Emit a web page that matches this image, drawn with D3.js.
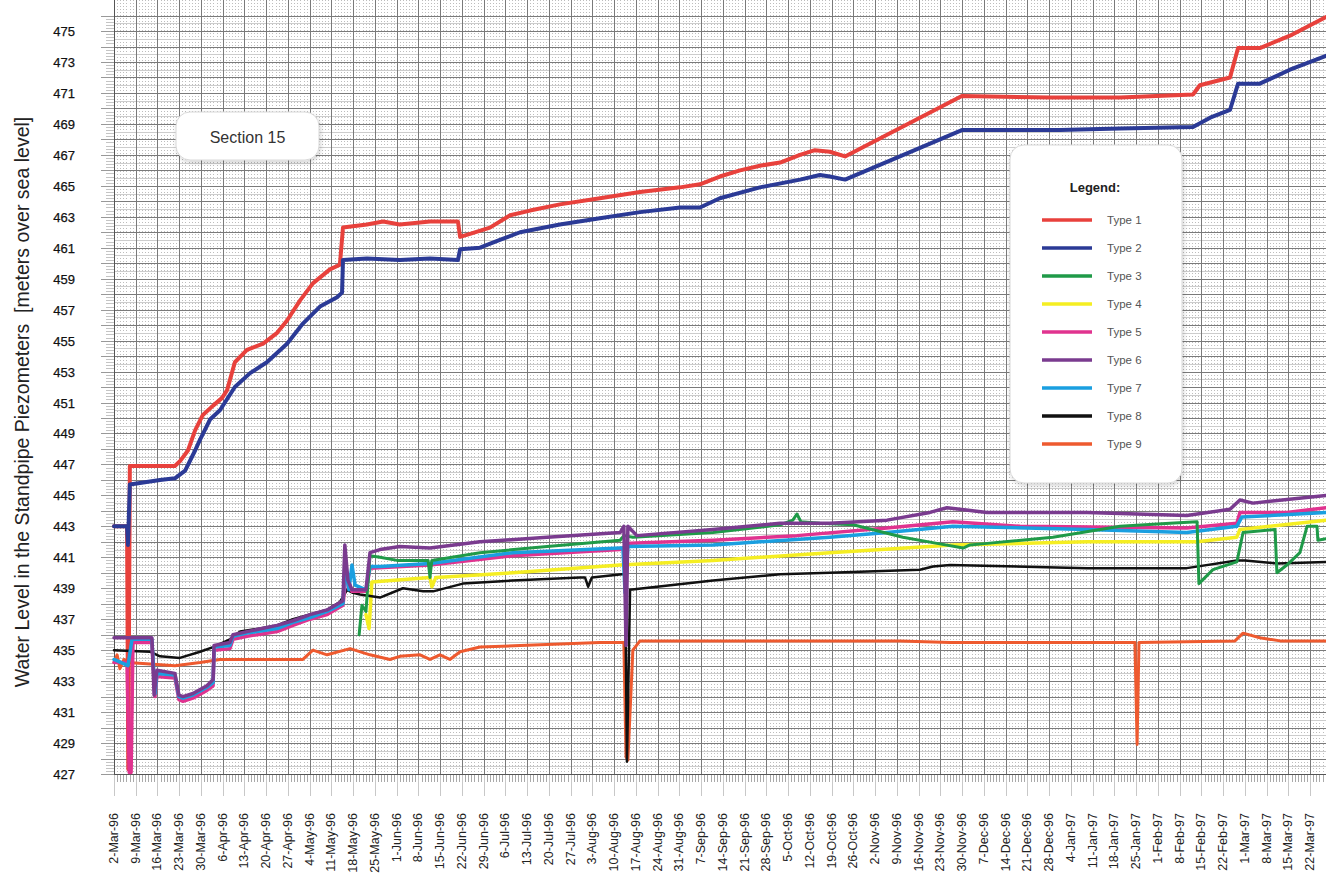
<!DOCTYPE html>
<html>
<head>
<meta charset="utf-8">
<script src="https://cdn.jsdelivr.net/npm/d3@7"></script>
<style>
	body { margin: 0; background: #fff; }
	svg { display: block; font-family: "Liberation Sans", Arial, sans-serif; }
</style>
</head>
<body>
<svg id="chart" width="1326" height="877"></svg>
<script>
var START = "1996-03-02";

var dateLabels = ["2-Mar-96", "9-Mar-96", "16-Mar-96", "23-Mar-96", "30-Mar-96", "6-Apr-96", "13-Apr-96",
	"20-Apr-96", "27-Apr-96", "4-May-96", "11-May-96", "18-May-96", "25-May-96", "1-Jun-96", "8-Jun-96",
	"15-Jun-96", "22-Jun-96", "29-Jun-96", "6-Jul-96", "13-Jul-96", "20-Jul-96", "27-Jul-96", "3-Aug-96",
	"10-Aug-96", "17-Aug-96", "24-Aug-96", "31-Aug-96", "7-Sep-96", "14-Sep-96", "21-Sep-96", "28-Sep-96",
	"5-Oct-96", "12-Oct-96", "19-Oct-96", "26-Oct-96", "2-Nov-96", "9-Nov-96", "16-Nov-96", "23-Nov-96",
	"30-Nov-96", "7-Dec-96", "14-Dec-96", "21-Dec-96", "28-Dec-96", "4-Jan-97", "11-Jan-97", "18-Jan-97",
	"25-Jan-97", "1-Feb-97", "8-Feb-97", "15-Feb-97", "22-Feb-97", "1-Mar-97", "8-Mar-97", "15-Mar-97", "22-Mar-97"];

var levelLabels = [427, 429, 431, 433, 435, 437, 439, 441, 443, 445, 447, 449, 451, 453, 455, 457, 459, 461,
	463, 465, 467, 469, 471, 473, 475];

var seriesNames = ["Type 1", "Type 2", "Type 3", "Type 4", "Type 5", "Type 6", "Type 7", "Type 8", "Type 9"];
var seriesColors = ["#e8413c", "#2b3a96", "#1f9a48", "#f5ee22", "#e0338f", "#7a3b8f", "#1a9fe0", "#111111", "#ee5a2f"];

// [days after 2-Mar-96, level in m]
var type1 = [[0,443.0],[4.2,443.0],[4.6,427.3],[5.1,446.9],[19.6,446.9],[21.2,447.2],[23.8,447.9],[26.1,449.2],
	[28.6,450.2],[31.9,450.8],[34.8,451.3],[36.4,451.8],[38.9,453.6],[42.8,454.4],[48.0,454.8],[52.5,455.5],
	[55.7,456.3],[59.9,457.6],[64.0,458.7],[69.5,459.6],[72.7,459.9],[73.7,462.3],[81.4,462.5],[86.6,462.7],
	[92.0,462.5],[101.7,462.7],[110.7,462.7],[111.4,461.7],[114.6,461.9],[121.0,462.3],[127.5,463.1],
	[133.9,463.4],[143.5,463.8],[156.4,464.2],[169.3,464.6],[182.2,464.9],[188.6,465.1],[195.0,465.6],
	[201.5,466.0],[207.9,466.3],[214.4,466.5],[220.8,467.0],[225.6,467.3],[230.4,467.2],[235.3,466.9],
	[272.9,470.8],[301.3,470.7],[323.8,470.7],[347.3,470.9],[349.5,471.5],[359.2,472.0],[361.8,473.9],
	[368.8,473.9],[378.5,474.7],[390.1,475.9]];

var type2 = [[0,443.0],[4.2,443.0],[4.5,441.8],[5.1,445.7],[14.8,446.0],[19.6,446.1],[22.9,446.6],[26.1,447.9],
	[27.7,448.6],[30.9,449.9],[34.1,450.5],[38.9,452.0],[43.8,452.9],[49.2,453.6],[55.7,454.8],[60.8,456.1],
	[66.3,457.2],[71.8,457.8],[73.4,458.1],[73.7,460.2],[81.4,460.3],[92.0,460.2],[101.7,460.3],[110.7,460.2],
	[111.4,460.9],[117.8,461.0],[124.2,461.5],[130.7,462.0],[143.5,462.5],[156.4,462.9],[169.3,463.3],
	[182.2,463.6],[188.6,463.6],[195.0,464.2],[207.9,464.9],[220.8,465.4],[227.2,465.7],[230.4,465.6],
	[235.3,465.4],[272.9,468.6],[304.5,468.6],[323.8,468.7],[347.3,468.8],[352.8,469.4],[359.2,469.9],
	[361.8,471.6],[368.8,471.6],[378.5,472.5],[390.1,473.4]];

var type3 = [[78.9,436.0],[79.8,437.9],[81.1,437.5],[82.4,441.1],[85.6,441.0],[91.1,440.8],[101.1,440.8],
	[101.7,439.7],[102.3,440.8],[117.8,441.3],[139.4,441.7],[162.9,442.1],[164.1,442.4],[167.0,442.3],
	[192.8,442.6],[214.4,443.1],[218.5,443.4],[219.8,443.8],[221.1,443.3],[227.2,443.2],[237.9,443.1],
	[253.9,442.3],[264.9,441.9],[273.3,441.6],[275.5,441.8],[281.0,441.9],[302.2,442.3],[323.8,443.0],
	[339.9,443.2],[348.6,443.3],[349.2,439.3],[353.7,440.2],[361.4,440.7],[363.4,442.6],[373.7,442.8],
	[374.3,440.0],[377.5,440.5],[381.7,441.3],[384.0,443.0],[387.2,443.0],[387.5,442.1],[390.1,442.2]];

var type4 = [[81.1,437.3],[82.1,436.4],[83.0,439.4],[101.7,439.7],[102.3,439.1],[103.6,439.7],[128.4,440.0],
	[162.9,440.5],[192.8,440.8],[230.4,441.3],[270.0,441.8],[313.2,442.0],[348.6,442.0],[361.4,442.3],
	[362.4,442.8],[390.1,443.4]];

var type5 = [[0,434.2],[4.2,434.2],[4.9,427.1],[5.5,427.1],[6.1,435.5],[12.2,435.5],[13.2,432.0],[13.8,433.3],
	[19.6,433.2],[20.9,431.8],[22.2,431.7],[25.4,431.9],[29.9,432.4],[31.9,432.7],[32.2,435.0],[37.3,435.1],
	[38.3,435.7],[42.8,435.9],[52.5,436.2],[57.6,436.6],[63.1,437.0],[68.6,437.3],[73.7,437.9],[74.7,439.9],
	[76.6,438.8],[81.1,438.8],[82.4,440.3],[101.7,440.5],[128.4,441.1],[162.9,441.5],[166.1,441.9],
	[192.8,442.1],[219.8,442.4],[248.8,442.9],[270.0,443.3],[291.6,443.0],[345.3,442.9],[361.4,443.2],
	[362.4,443.9],[377.5,443.9],[390.1,444.2]];

var type6 = [[0,435.8],[12.2,435.8],[12.9,432.1],[13.8,433.7],[19.6,433.5],[20.9,432.1],[22.2,432.0],
	[25.4,432.2],[29.9,432.7],[31.9,433.1],[32.2,435.3],[37.3,435.5],[38.3,436.0],[42.8,436.2],[52.5,436.6],
	[57.6,436.9],[63.1,437.3],[68.6,437.6],[73.7,438.2],[74.3,441.8],[75.3,439.5],[76.6,438.9],[81.1,438.9],
	[82.4,441.3],[85.6,441.5],[92.0,441.7],[101.7,441.6],[117.8,442.0],[139.4,442.3],[162.9,442.6],
	[164.1,443.0],[164.8,435.3],[165.4,443.0],[168.3,442.4],[192.8,442.8],[214.4,443.2],[230.4,443.2],
	[248.8,443.4],[262.6,443.9],[268.1,444.2],[281.0,443.9],[313.2,443.9],[345.3,443.7],[359.2,444.1],
	[362.4,444.7],[366.6,444.5],[390.1,445.0]];

var type7 = [[0,434.4],[4.5,434.0],[5.8,435.7],[12.2,435.7],[13.2,432.2],[13.8,433.5],[19.6,433.4],[20.9,432.0],
	[22.2,431.9],[25.4,432.1],[29.9,432.6],[31.9,432.9],[32.2,435.2],[37.3,435.3],[38.3,435.9],[42.8,436.1],
	[52.5,436.4],[57.6,436.8],[63.1,437.1],[68.6,437.5],[73.7,438.0],[74.3,440.5],[75.6,438.9],[76.6,440.5],
	[77.6,439.2],[81.1,438.9],[82.4,440.4],[85.6,440.4],[101.7,440.6],[128.4,441.3],[162.9,441.6],
	[163.8,441.6],[164.5,438.7],[165.4,441.7],[192.8,441.8],[230.4,442.3],[248.8,442.6],[270.0,443.0],
	[313.2,442.8],[345.3,442.6],[361.4,443.0],[363.0,443.6],[390.1,443.9]];

var type8 = [[0,435.0],[11.6,434.9],[14.8,434.6],[21.2,434.5],[27.7,434.9],[31.9,435.2],[37.3,435.7],
	[40.6,436.2],[47.0,436.4],[52.5,436.6],[57.6,437.0],[63.1,437.3],[68.6,437.6],[72.7,438.1],[75.0,438.9],
	[76.9,438.7],[79.2,438.6],[85.6,438.4],[93.0,439.0],[99.5,438.8],[102.7,438.8],[112.3,439.3],
	[128.4,439.5],[150.0,439.7],[151.6,439.7],[152.6,439.1],[153.8,439.7],[163.5,439.9],[164.5,439.9],
	[165.1,427.8],[166.1,438.9],[192.8,439.5],[214.4,439.9],[230.4,440.0],[259.4,440.2],[263.6,440.4],
	[269.1,440.5],[313.2,440.3],[345.3,440.3],[361.4,440.8],[364.0,440.8],[374.3,440.6],[390.1,440.7]];

var type9 = [[0,434.2],[1.0,434.7],[1.9,433.8],[3.2,434.4],[4.5,434.2],[11.6,434.1],[19.6,434.0],[27.7,434.2],
	[34.1,434.4],[60.8,434.4],[64.0,435.0],[68.6,434.7],[76.0,435.1],[82.4,434.7],[88.8,434.4],[92.0,434.6],
	[98.5,434.7],[101.7,434.4],[104.9,434.7],[108.1,434.4],[111.4,434.9],[117.8,435.2],[130.7,435.3],
	[156.4,435.5],[164.1,435.5],[164.8,428.1],[165.4,427.9],[167.0,435.0],[169.3,435.6],[253.0,435.6],
	[269.1,435.5],[328.6,435.5],[329.3,428.9],[329.9,435.5],[360.8,435.6],[363.4,436.1],[368.8,435.8],
	[375.3,435.6],[390.1,435.6]];

var allSeries = [type1, type2, type3, type4, type5, type6, type7, type8, type9];
// drawing order, back to front
var drawOrder = [8, 0, 1, 3, 7, 4, 6, 2, 5];
var lineWidths = [4, 4, 3, 3.5, 3.5, 3.5, 3.5, 2.5, 3];

var parseDay = d3.timeParse("%Y-%m-%d"),
		parseLabel = d3.timeParse("%d-%b-%y"),
		start = parseDay(START);

function dayToDate(d) {
	return new Date(start.getTime() + d * 864e5);
}

var svg = d3.select("#chart");

var x = d3.scaleTime()
		.domain([start, dayToDate(390.1)])
		.range([114, 1326]),
		y = d3.scaleLinear()
		.domain([427, 476.1])
		.range([774, 14]);

var left = x.range()[0], right = x.range()[1],
		top = y.range()[1], bottom = y.range()[0];

var defs = svg.append("defs");
var shadow = defs.append("filter")
		.attr("id", "shadow")
		.attr("x", "-10%").attr("y", "-10%")
		.attr("width", "130%").attr("height", "130%");
shadow.append("feDropShadow")
		.attr("dx", 1).attr("dy", 2)
		.attr("stdDeviation", 2)
		.attr("flood-color", "#000")
		.attr("flood-opacity", 0.18);

// grid
var grid = svg.append("g").attr("class", "grid");
var days = d3.range(0, 391);

grid.selectAll(".vminor")
	.data(days.filter(function(d) { return d % 7 !== 0; }))
	.enter().append("line")
		.attr("x1", function(d) { return Math.round(x(dayToDate(d))) + 0.5; })
		.attr("x2", function(d) { return Math.round(x(dayToDate(d))) + 0.5; })
		.attr("y1", top).attr("y2", bottom)
		.attr("stroke", "#bdbdbd")
		.attr("stroke-width", 1)
		.attr("stroke-dasharray", "1,2");

grid.selectAll(".hminor")
	.data(d3.range(427.5, 476.1, 1))
	.enter().append("line")
		.attr("x1", left).attr("x2", right)
		.attr("y1", function(d) { return Math.round(y(d)) + 0.5; })
		.attr("y2", function(d) { return Math.round(y(d)) + 0.5; })
		.attr("stroke", "#cdcdcd")
		.attr("stroke-width", 1);

grid.selectAll(".hmajor")
	.data(d3.range(427, 476.1, 1))
	.enter().append("line")
		.attr("x1", left).attr("x2", right)
		.attr("y1", function(d) { return Math.round(y(d)) + 0.5; })
		.attr("y2", function(d) { return Math.round(y(d)) + 0.5; })
		.attr("stroke", "#7a7a7a")
		.attr("stroke-width", 1);

grid.selectAll(".vmajor")
	.data(dateLabels)
	.enter().append("line")
		.attr("x1", function(d) { return Math.round(x(parseLabel(d))) + 0.5; })
		.attr("x2", function(d) { return Math.round(x(parseLabel(d))) + 0.5; })
		.attr("y1", top).attr("y2", bottom)
		.attr("stroke", "#7a7a7a")
		.attr("stroke-width", 1);

// axis ticks
var ticks = svg.append("g").attr("class", "ticks");
ticks.selectAll(".ytick")
	.data(d3.range(0, 246))
	.enter().append("line")
		.attr("x1", function(i) { return i % 5 === 0 ? left - 13 : left - 8; })
		.attr("x2", left)
		.attr("y1", function(i) { return Math.round(y(427 + i * 0.2)) + 0.5; })
		.attr("y2", function(i) { return Math.round(y(427 + i * 0.2)) + 0.5; })
		.attr("stroke", function(i) { return i % 5 === 0 ? "#999" : "#c4c4c4"; })
		.attr("stroke-width", 1);

ticks.selectAll(".xtick")
	.data(days)
	.enter().append("line")
		.attr("x1", function(d) { return Math.round(x(dayToDate(d))) + 0.5; })
		.attr("x2", function(d) { return Math.round(x(dayToDate(d))) + 0.5; })
		.attr("y1", bottom)
		.attr("y2", function(d) { return d % 7 === 0 ? bottom + 22 : bottom + 8; })
		.attr("stroke", function(d) { return d % 7 === 0 ? "#c8c8c8" : "#aaa"; })
		.attr("stroke-width", 1);

svg.append("line")
		.attr("x1", left + 0.5).attr("x2", left + 0.5)
		.attr("y1", top).attr("y2", bottom)
		.attr("stroke", "#555");
svg.append("line")
		.attr("x1", left).attr("x2", right)
		.attr("y1", bottom + 0.5).attr("y2", bottom + 0.5)
		.attr("stroke", "#555");

// labels
svg.append("g").selectAll("text")
	.data(levelLabels)
	.enter().append("text")
		.attr("x", 75)
		.attr("y", function(d) { return y(d) + 5; })
		.attr("text-anchor", "end")
		.attr("font-size", 13)
		.attr("fill", "#111")
		.attr("stroke", "#111")
		.attr("stroke-width", 0.25)
		.text(function(d) { return d; });

svg.append("g").selectAll("text")
	.data(dateLabels)
	.enter().append("text")
		.attr("transform", function(d) {
			return "translate(" + (x(parseLabel(d)) + 4) + ",813) rotate(-90)";
		})
		.attr("text-anchor", "end")
		.attr("font-size", 12.5)
		.attr("fill", "#222")
		.text(function(d) { return d; });

svg.append("text")
		.attr("transform", "translate(29,402) rotate(-90)")
		.attr("text-anchor", "middle")
		.attr("font-size", 19.5)
		.attr("fill", "#222")
		.attr("xml:space", "preserve")
		.text("Water Level in the Standpipe Piezometers  [meters over sea level]");

// series
var line = d3.line()
		.x(function(d) { return x(dayToDate(d[0])); })
		.y(function(d) { return y(d[1]); });

svg.append("g").attr("class", "series")
	.selectAll("path")
	.data(drawOrder)
	.enter().append("path")
		.attr("d", function(i) { return line(allSeries[i]); })
		.attr("fill", "none")
		.attr("stroke", function(i) { return seriesColors[i]; })
		.attr("stroke-width", function(i) { return lineWidths[i]; })
		.attr("stroke-linejoin", "round")
		.attr("stroke-linecap", "round");

// section box
var section = svg.append("g");
section.append("rect")
		.attr("x", 176).attr("y", 112)
		.attr("width", 143).attr("height", 48)
		.attr("rx", 14)
		.attr("fill", "#fff")
		.attr("stroke", "#d8d8d8")
		.attr("filter", "url(#shadow)");
section.append("text")
		.attr("x", 247.5).attr("y", 143)
		.attr("text-anchor", "middle")
		.attr("font-size", 16)
		.attr("fill", "#333")
		.text("Section 15");

// legend
var legend = svg.append("g");
legend.append("rect")
		.attr("x", 1010).attr("y", 145)
		.attr("width", 172).attr("height", 338)
		.attr("rx", 14)
		.attr("fill", "#fff")
		.attr("stroke", "#d8d8d8")
		.attr("filter", "url(#shadow)");
legend.append("text")
		.attr("x", 1095).attr("y", 192)
		.attr("text-anchor", "middle")
		.attr("font-size", 13)
		.attr("font-weight", "bold")
		.attr("fill", "#222")
		.text("Legend:");

var items = legend.selectAll(".item")
	.data(seriesNames)
	.enter().append("g")
		.attr("transform", function(d, i) { return "translate(0," + (220 + i * 28) + ")"; });
items.append("line")
		.attr("x1", 1042).attr("x2", 1092)
		.attr("stroke", function(d, i) { return seriesColors[i]; })
		.attr("stroke-width", 3.5);
items.append("text")
		.attr("x", 1107).attr("y", 4)
		.attr("font-size", 11.5)
		.attr("fill", "#555")
		.text(function(d) { return d; });
</script>
</body>
</html>
